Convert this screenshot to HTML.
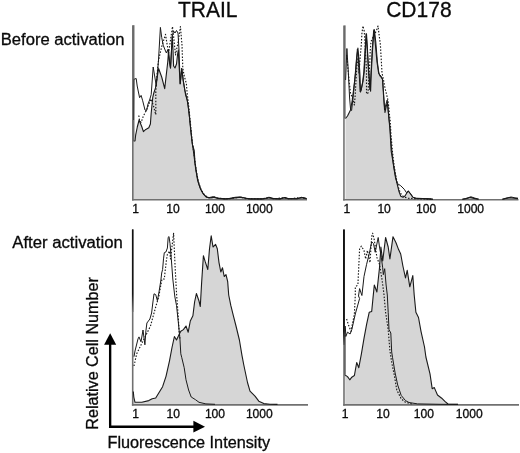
<!DOCTYPE html>
<html><head><meta charset="utf-8"><title>Figure</title>
<style>
html,body{margin:0;padding:0;background:#fff;}
svg{display:block;}
text{font-family:"Liberation Sans",Arial,sans-serif;fill:#0a0a0a;stroke:#0a0a0a;stroke-width:0.3px;}
.tk{font-size:12.1px;}
.ti{font-size:21.6px;}
.rl{font-size:16px;}
</style></head><body>
<svg width="520" height="453" viewBox="0 0 520 453">
<defs>
<linearGradient id="g3" gradientUnits="userSpaceOnUse" x1="0" y1="229" x2="0" y2="312"><stop offset="0" stop-color="#111"/><stop offset="0.78" stop-color="#151515"/><stop offset="1" stop-color="#707070"/></linearGradient>
<linearGradient id="g4" gradientUnits="userSpaceOnUse" x1="0" y1="229" x2="0" y2="345"><stop offset="0" stop-color="#0c0c0c"/><stop offset="0.88" stop-color="#101010"/><stop offset="1" stop-color="#707070"/></linearGradient>
</defs>
<rect width="520" height="453" fill="#fff"/>
<polygon points="133.6,199.8 133.6,141.0 135.0,141.0 135.7,134.8 137.3,127.0 139.1,120.0 140.4,123.2 141.9,127.0 143.4,131.7 145.8,129.4 148.8,127.8 150.4,124.0 151.2,113.0 152.7,97.7 153.8,93.0 155.5,87.8 158.6,68.5 161.7,77.0 164.7,88.6 167.8,61.5 168.6,50.0 169.5,62.0 170.5,68.0 171.5,50.0 172.3,36.0 173.0,50.0 173.6,66.0 175.0,68.0 176.5,64.0 177.5,55.0 178.3,50.0 179.0,64.0 180.2,84.0 181.7,68.5 183.3,81.0 184.8,90.0 185.6,95.0 187.3,100.0 189.0,112.3 190.7,129.6 192.5,145.0 194.2,150.4 195.0,162.5 196.8,174.6 198.5,183.0 200.8,189.2 203.7,194.4 206.5,197.3 210.0,197.9 213.5,197.2 218.0,198.4 225.0,198.9 229.6,198.7 234.2,197.9 241.2,197.3 245.8,198.3 250.4,198.9 262.0,198.9 266.0,198.5 269.5,197.6 273.0,198.6 280.0,198.9 284.5,197.8 288.0,198.7 297.0,198.8 302.0,197.6 306.5,198.6 306.5,199.8" fill="#d6d6d6" stroke="none"/>
<line x1="132.85" y1="25.2" x2="132.85" y2="200.6" stroke="#6a6a6a" stroke-width="1.6"/>
<line x1="132.04999999999998" y1="199.75" x2="307" y2="199.75" stroke="#707070" stroke-width="1.7"/>
<polyline points="133.6,141.0 135.0,141.0 135.7,134.8 137.3,127.0 139.1,120.0 140.4,123.2 141.9,127.0 143.4,131.7 145.8,129.4 148.8,127.8 150.4,124.0 151.2,113.0 152.7,97.7 153.8,93.0 155.5,87.8 158.6,68.5 161.7,77.0 164.7,88.6 167.8,61.5 168.6,50.0 169.5,62.0 170.5,68.0 171.5,50.0 172.3,36.0 173.0,50.0 173.6,66.0 175.0,68.0 176.5,64.0 177.5,55.0 178.3,50.0 179.0,64.0 180.2,84.0 181.7,68.5 183.3,81.0 184.8,90.0 185.6,95.0 187.3,100.0 189.0,112.3 190.7,129.6 192.5,145.0 194.2,150.4 195.0,162.5 196.8,174.6 198.5,183.0 200.8,189.2 203.7,194.4 206.5,197.3 210.0,197.9 213.5,197.2 218.0,198.4 225.0,198.9 229.6,198.7 234.2,197.9 241.2,197.3 245.8,198.3 250.4,198.9 262.0,198.9 266.0,198.5 269.5,197.6 273.0,198.6 280.0,198.9 284.5,197.8 288.0,198.7 297.0,198.8 302.0,197.6 306.5,198.6" fill="none" stroke="#1a1a1a" stroke-width="1.1" stroke-linejoin="round"/>
<polyline points="133.6,120.0 133.9,79.3 136.2,78.5 137.2,86.0 138.0,90.0 139.6,97.7 141.1,95.4 142.7,100.8 145.0,110.0 146.5,110.8 148.0,104.0 149.6,100.0 151.2,94.6 153.2,67.0 156.3,86.0 158.5,60.0 160.4,27.4 161.7,37.4 163.2,45.2 164.7,49.0 166.3,52.9 167.8,49.8 169.4,60.6 170.5,68.3 172.3,36.0 173.5,31.0 175.0,33.0 176.5,30.5 178.0,33.0 179.0,50.0 180.2,83.8 181.7,68.3 183.3,80.7 184.8,90.0 186.5,97.0 188.2,106.0 190.0,122.0 191.8,140.0 193.5,152.0 195.5,168.0 197.5,180.0 200.0,188.0 203.0,193.8 206.0,196.6 209.0,197.6 213.5,196.6 217.0,198.0 225.0,198.8 230.0,198.4 235.0,197.3 240.0,196.9 245.0,198.0 250.0,198.9 262.0,198.9 266.0,198.2 269.0,197.2 272.5,198.4 280.0,198.8 285.0,197.4 288.5,198.6 297.0,198.7 301.5,197.3 306.5,198.5" fill="none" stroke="#1a1a1a" stroke-width="1.0" stroke-linejoin="round"/>
<polyline points="138.8,115.5 139.6,121.0 141.1,122.4 143.4,116.0 146.5,110.0 149.6,102.4 151.2,99.0 153.5,106.0 155.8,114.7 155.8,91.5 157.0,75.0 158.6,60.0 161.7,46.7 165.5,34.4 167.0,43.6 168.6,52.9 170.5,40.0 172.5,26.6 174.0,40.0 175.5,55.0 178.5,40.0 180.4,26.6 182.0,45.0 182.8,68.0 184.0,75.0 186.4,83.8 187.0,92.0 188.5,104.0 190.5,124.0 192.3,142.0 194.5,158.0 196.5,172.0 198.5,182.0 201.0,189.5 204.5,195.0 208.0,197.6 212.0,197.8 214.5,197.0 218.0,198.3 228.0,198.8 236.0,197.6 241.0,197.5 246.0,198.6 262.0,198.9 269.0,197.5 274.0,198.8 284.0,197.7 289.0,198.8 301.0,197.5 306.5,198.6" fill="none" stroke="#1a1a1a" stroke-width="1.15" stroke-dasharray="1.5 1.6" stroke-linejoin="round"/>
<line x1="133.9" y1="25.2" x2="133.9" y2="141" stroke="#4a4a4a" stroke-width="1.0"/>
<polygon points="345.5,199.8 345.5,118.5 347.5,116.0 350.5,110.0 352.3,100.0 354.0,86.0 355.6,72.8 356.8,58.0 357.9,48.0 359.0,60.0 360.0,76.0 360.5,92.0 361.5,88.0 363.0,81.5 364.2,72.0 365.3,52.0 366.5,34.0 367.6,52.0 368.8,72.0 370.6,91.3 371.3,72.8 372.5,50.0 374.0,29.5 375.5,46.0 377.0,62.0 378.6,72.8 380.0,76.0 382.5,78.8 383.5,95.0 385.0,112.5 386.3,106.0 387.5,102.5 388.6,115.0 390.0,130.0 391.2,151.3 393.7,165.6 395.5,176.0 397.3,184.6 399.0,191.5 400.8,196.2 403.0,197.3 405.0,196.0 406.8,193.0 408.3,191.2 410.6,194.0 412.9,197.3 415.8,198.2 422.7,198.5 429.6,198.9 433.0,199.3 433.0,199.8" fill="#d6d6d6" stroke="none"/>
<polygon points="462.0,199.8 462.0,199.2 466.0,198.6 470.0,197.4 474.0,198.4 478.0,199.2 478.0,199.8" fill="#d6d6d6" stroke="none"/>
<polygon points="502.0,199.8 502.0,199.2 506.0,198.4 510.0,197.6 514.0,198.2 518.0,198.6 518.0,199.8" fill="#d6d6d6" stroke="none"/>
<line x1="343.95" y1="25.4" x2="343.95" y2="200.6" stroke="#747474" stroke-width="1.6"/>
<line x1="343.15" y1="199.75" x2="518.5" y2="199.75" stroke="#707070" stroke-width="1.7"/>
<polyline points="345.5,118.5 347.5,116.0 350.5,110.0 352.3,100.0 354.0,86.0 355.6,72.8 356.8,58.0 357.9,48.0 359.0,60.0 360.0,76.0 360.5,92.0 361.5,88.0 363.0,81.5 364.2,72.0 365.3,52.0 366.5,34.0 367.6,52.0 368.8,72.0 370.6,91.3 371.3,72.8 372.5,50.0 374.0,29.5 375.5,46.0 377.0,62.0 378.6,72.8 380.0,76.0 382.5,78.8 383.5,95.0 385.0,112.5 386.3,106.0 387.5,102.5 388.6,115.0 390.0,130.0 391.2,151.3 393.7,165.6 395.5,176.0 397.3,184.6 399.0,191.5 400.8,196.2 403.0,197.3 405.0,196.0 406.8,193.0 408.3,191.2 410.6,194.0 412.9,197.3 415.8,198.2 422.7,198.5 429.6,198.9 433.0,199.3" fill="none" stroke="#1a1a1a" stroke-width="1.1" stroke-linejoin="round"/>
<polyline points="462.0,199.2 466.0,198.6 470.0,197.4 474.0,198.4 478.0,199.2" fill="none" stroke="#1a1a1a" stroke-width="1.1" stroke-linejoin="round"/>
<polyline points="502.0,199.2 506.0,198.4 510.0,197.6 514.0,198.2 518.0,198.6" fill="none" stroke="#1a1a1a" stroke-width="1.1" stroke-linejoin="round"/>
<polyline points="345.6,80.0 346.9,48.5 348.3,72.0 349.6,98.0 350.6,109.7 351.6,110.5 353.0,98.0 354.6,82.0 356.2,62.0 357.4,49.0 358.4,58.0 359.4,78.0 360.2,92.0 361.2,90.0 362.6,82.0 363.8,72.0 365.0,50.0 366.2,33.5 367.2,48.0 368.4,70.0 370.0,90.0 370.9,74.0 372.2,50.0 373.6,31.0 374.4,29.7 375.8,42.0 377.4,62.0 379.0,74.0 381.0,76.0 382.6,80.0 383.5,92.0 384.5,110.0 386.0,104.0 387.2,100.0 388.5,114.0 390.0,128.0 391.5,148.0 393.5,166.0 395.5,178.0 397.3,183.5 399.0,184.6 400.8,185.8 404.2,189.2 406.5,192.7 408.3,191.0 410.6,193.8 412.9,197.3 415.8,198.2 422.7,198.5 429.6,198.9 433.0,199.3" fill="none" stroke="#1a1a1a" stroke-width="1.0" stroke-linejoin="round"/>
<polyline points="463.0,199.2 467.0,198.3 471.0,196.8 475.0,198.2 479.0,199.2" fill="none" stroke="#1a1a1a" stroke-width="1.0" stroke-linejoin="round"/>
<polyline points="503.0,199.2 507.0,198.0 511.0,197.0 515.0,197.8 518.0,198.2" fill="none" stroke="#1a1a1a" stroke-width="1.0" stroke-linejoin="round"/>
<polyline points="346.6,55.0 347.3,61.5 349.0,80.0 350.5,93.0 352.7,99.0 354.4,105.0 355.2,95.0 356.2,77.0 357.2,62.0 358.0,58.0 359.0,73.0 360.2,56.6 361.3,45.0 361.9,33.5 363.0,26.0 364.2,31.0 364.8,39.0 365.6,55.0 366.5,70.0 366.5,94.0 368.0,93.0 369.8,62.4 370.2,50.8 371.0,41.6 373.5,36.0 376.3,31.0 378.0,26.0 380.4,45.0 382.0,72.8 383.5,80.0 385.0,88.0 386.7,94.8 387.9,100.0 388.5,104.6 389.6,116.0 390.2,120.8 391.0,135.0 392.5,152.0 394.3,167.0 396.8,181.0 398.0,186.0 400.2,192.7 401.9,195.0 404.0,197.0 408.0,198.3 420.0,198.8 432.0,199.2" fill="none" stroke="#1a1a1a" stroke-width="1.15" stroke-dasharray="1.5 1.6" stroke-linejoin="round"/>
<line x1="345.0" y1="25.4" x2="345.0" y2="118.5" stroke="#333" stroke-width="0.9"/>
<polygon points="133.3,404.8 133.3,391.5 133.8,397.0 135.0,402.3 141.8,402.3 148.8,400.6 152.2,398.8 155.7,398.0 158.3,393.7 162.6,386.7 166.0,376.3 169.5,360.8 172.1,347.0 174.4,336.5 176.5,340.0 179.0,334.8 180.8,331.3 183.4,329.6 186.0,326.0 188.2,332.2 190.3,321.0 192.9,315.8 194.6,302.0 196.4,293.5 199.0,301.0 200.3,306.5 201.6,283.0 203.4,255.7 205.2,261.7 207.8,269.5 209.5,248.8 211.2,235.8 213.0,247.0 215.6,244.4 217.3,248.8 219.0,262.6 220.8,272.0 222.5,267.8 224.2,276.5 226.0,274.7 227.7,281.7 228.7,295.0 230.8,305.4 233.4,315.8 236.0,326.0 239.4,340.0 242.0,355.6 243.8,365.0 247.5,382.5 250.0,391.2 255.0,396.2 258.8,401.2 263.8,403.6 270.0,404.3 277.5,404.4 277.5,404.8" fill="#d6d6d6" stroke="none"/>
<line x1="132.7" y1="229.4" x2="132.7" y2="405.65000000000003" stroke="#707070" stroke-width="1.6"/>
<line x1="131.89999999999998" y1="404.8" x2="308" y2="404.8" stroke="#707070" stroke-width="1.7"/>
<polyline points="133.3,391.5 133.8,397.0 135.0,402.3 141.8,402.3 148.8,400.6 152.2,398.8 155.7,398.0 158.3,393.7 162.6,386.7 166.0,376.3 169.5,360.8 172.1,347.0 174.4,336.5 176.5,340.0 179.0,334.8 180.8,331.3 183.4,329.6 186.0,326.0 188.2,332.2 190.3,321.0 192.9,315.8 194.6,302.0 196.4,293.5 199.0,301.0 200.3,306.5 201.6,283.0 203.4,255.7 205.2,261.7 207.8,269.5 209.5,248.8 211.2,235.8 213.0,247.0 215.6,244.4 217.3,248.8 219.0,262.6 220.8,272.0 222.5,267.8 224.2,276.5 226.0,274.7 227.7,281.7 228.7,295.0 230.8,305.4 233.4,315.8 236.0,326.0 239.4,340.0 242.0,355.6 243.8,365.0 247.5,382.5 250.0,391.2 255.0,396.2 258.8,401.2 263.8,403.6 270.0,404.3 277.5,404.4" fill="none" stroke="#1a1a1a" stroke-width="1.1" stroke-linejoin="round"/>
<polyline points="134.0,356.7 135.0,351.0 138.0,338.9 139.0,336.9 141.0,341.8 143.0,330.0 144.9,344.8 145.9,330.9 146.9,323.0 149.9,319.0 151.6,313.0 152.8,303.0 154.0,293.8 155.7,294.6 157.4,300.7 159.0,292.0 160.9,280.0 161.7,273.0 162.6,269.5 163.5,258.9 164.3,252.7 165.9,252.0 167.4,248.0 168.2,237.3 169.0,236.5 170.0,243.5 171.3,258.9 172.8,279.0 174.4,293.0 174.9,297.0 176.5,305.4 178.2,321.0 179.9,338.3 180.8,353.8 181.7,357.3 184.2,367.7 186.0,379.8 188.6,390.0 191.2,397.0 195.5,399.7 199.0,402.3 205.9,403.9 215.0,404.3" fill="none" stroke="#1a1a1a" stroke-width="1.0" stroke-linejoin="round"/>
<polyline points="134.0,366.0 136.7,353.8 141.0,345.0 145.3,336.5 150.5,326.0 155.7,307.0 158.9,296.0 160.5,287.0 162.0,279.0 164.3,279.0 165.1,271.3 166.6,258.9 167.4,254.3 169.7,251.2 170.5,258.9 172.0,246.5 173.6,233.4 174.4,251.2 175.1,266.6 175.9,282.0 176.7,296.0 177.6,308.0 178.4,320.0 179.2,332.0 180.0,340.0" fill="none" stroke="#1a1a1a" stroke-width="1.15" stroke-dasharray="1.5 1.6" stroke-linejoin="round"/>
<line x1="132.7" y1="229.4" x2="132.7" y2="312" stroke="url(#g3)" stroke-width="1.5"/>
<polygon points="345.2,404.8 345.2,375.5 346.0,375.6 347.5,376.6 349.8,379.8 351.8,377.2 354.4,375.5 356.7,362.5 358.8,367.7 361.4,353.8 364.0,338.3 366.6,324.4 369.2,312.3 371.7,311.4 373.0,298.0 374.3,285.0 376.9,292.0 379.5,267.8 380.9,247.0 382.7,261.0 385.6,237.5 388.2,247.0 389.9,259.0 393.0,236.7 396.0,242.7 398.6,249.6 400.7,254.0 402.9,266.0 405.5,278.0 407.2,270.4 409.8,286.8 412.8,275.6 414.2,295.0 415.9,312.3 418.5,317.5 421.0,331.3 424.5,347.0 425.9,357.0 430.0,373.8 432.2,388.7 434.3,387.6 437.5,395.0 441.7,398.2 444.9,401.3 448.0,404.0 458.0,404.4 458.0,404.8" fill="#d6d6d6" stroke="none"/>
<line x1="344.0" y1="229.4" x2="344.0" y2="405.65000000000003" stroke="#707070" stroke-width="1.6"/>
<line x1="343.2" y1="404.8" x2="519" y2="404.8" stroke="#707070" stroke-width="1.7"/>
<polyline points="345.2,375.5 346.0,375.6 347.5,376.6 349.8,379.8 351.8,377.2 354.4,375.5 356.7,362.5 358.8,367.7 361.4,353.8 364.0,338.3 366.6,324.4 369.2,312.3 371.7,311.4 373.0,298.0 374.3,285.0 376.9,292.0 379.5,267.8 380.9,247.0 382.7,261.0 385.6,237.5 388.2,247.0 389.9,259.0 393.0,236.7 396.0,242.7 398.6,249.6 400.7,254.0 402.9,266.0 405.5,278.0 407.2,270.4 409.8,286.8 412.8,275.6 414.2,295.0 415.9,312.3 418.5,317.5 421.0,331.3 424.5,347.0 425.9,357.0 430.0,373.8 432.2,388.7 434.3,387.6 437.5,395.0 441.7,398.2 444.9,401.3 448.0,404.0 458.0,404.4" fill="none" stroke="#1a1a1a" stroke-width="1.1" stroke-linejoin="round"/>
<polyline points="345.3,326.0 345.8,336.5 347.5,332.2 350.1,334.0 351.8,329.6 355.3,314.0 359.6,298.5 358.5,296.0 359.6,288.6 361.9,295.5 364.0,276.5 366.6,264.3 369.2,254.0 371.7,241.8 373.5,243.6 375.2,252.2 378.2,237.5 379.5,247.0 381.3,257.4 382.7,267.8 383.3,274.7 384.7,268.7 386.1,285.0 387.3,295.0 388.2,312.3 389.0,329.6 390.8,333.0 391.7,352.0 392.5,357.3 395.1,372.9 397.7,385.0 401.2,395.4 405.5,400.6 409.0,402.5 417.6,403.9 440.0,404.3 458.0,404.4" fill="none" stroke="#1a1a1a" stroke-width="1.0" stroke-linejoin="round"/>
<polyline points="346.6,319.0 348.5,325.0 351.0,331.3 354.4,314.0 355.3,295.0 355.3,286.8 357.9,285.0 359.6,248.8 361.4,246.2 364.0,250.5 365.7,259.0 367.4,250.5 370.0,262.6 371.7,236.7 372.6,233.2 374.3,240.0 376.9,257.4 379.5,264.3 382.1,280.0 383.9,293.8 385.6,312.3 388.2,329.6 389.9,350.4 391.7,362.5 394.2,374.6 396.8,390.0 401.2,398.8 405.5,402.3 412.0,403.9" fill="none" stroke="#1a1a1a" stroke-width="1.15" stroke-dasharray="1.5 1.6" stroke-linejoin="round"/>
<line x1="343.95" y1="229.4" x2="343.95" y2="345" stroke="url(#g4)" stroke-width="1.8"/>
<line x1="345.1" y1="335" x2="345.1" y2="375.5" stroke="#222" stroke-width="0.9"/>
<text x="132.3" y="213.3" class="tk">1</text>
<text x="166.3" y="213.3" class="tk">10</text>
<text x="204.9" y="213.3" class="tk">100</text>
<text x="245.9" y="213.3" class="tk">1000</text>
<text x="343.6" y="213.4" class="tk">1</text>
<text x="377.40000000000003" y="213.4" class="tk">10</text>
<text x="416.1" y="213.4" class="tk">100</text>
<text x="457.20000000000005" y="213.4" class="tk">1000</text>
<text x="132.3" y="417.7" class="tk">1</text>
<text x="166.60000000000002" y="417.7" class="tk">10</text>
<text x="204.9" y="417.7" class="tk">100</text>
<text x="245.9" y="417.7" class="tk">1000</text>
<text x="341.8" y="417.7" class="tk">1</text>
<text x="376.2" y="417.7" class="tk">10</text>
<text x="413.8" y="417.7" class="tk">100</text>
<text x="455.8" y="417.7" class="tk">1000</text>
<text x="178" y="17.3" class="ti" textLength="59.5" lengthAdjust="spacingAndGlyphs">TRAIL</text>
<text x="386.2" y="17.3" class="ti" textLength="65.4" lengthAdjust="spacingAndGlyphs">CD178</text>
<text x="0.8" y="45" class="rl" textLength="123.7" lengthAdjust="spacingAndGlyphs">Before activation</text>
<text x="12.3" y="248" class="rl" textLength="110.4" lengthAdjust="spacingAndGlyphs">After activation</text>
<text transform="translate(98,429.7) rotate(-90)" class="rl" textLength="152.5" lengthAdjust="spacingAndGlyphs">Relative Cell Number</text>
<text x="107.5" y="448.3" class="rl" textLength="162.6" lengthAdjust="spacingAndGlyphs">Fluorescence Intensity</text>
<path d="M110.15,343 V426.7 H194" fill="none" stroke="#000" stroke-width="2.35"/>
<polygon points="110.15,333.2 104.1,344.7 116.2,344.7" fill="#000"/>
<polygon points="205,426.7 193.4,420.8 193.4,432.6" fill="#000"/>
</svg>
</body></html>
